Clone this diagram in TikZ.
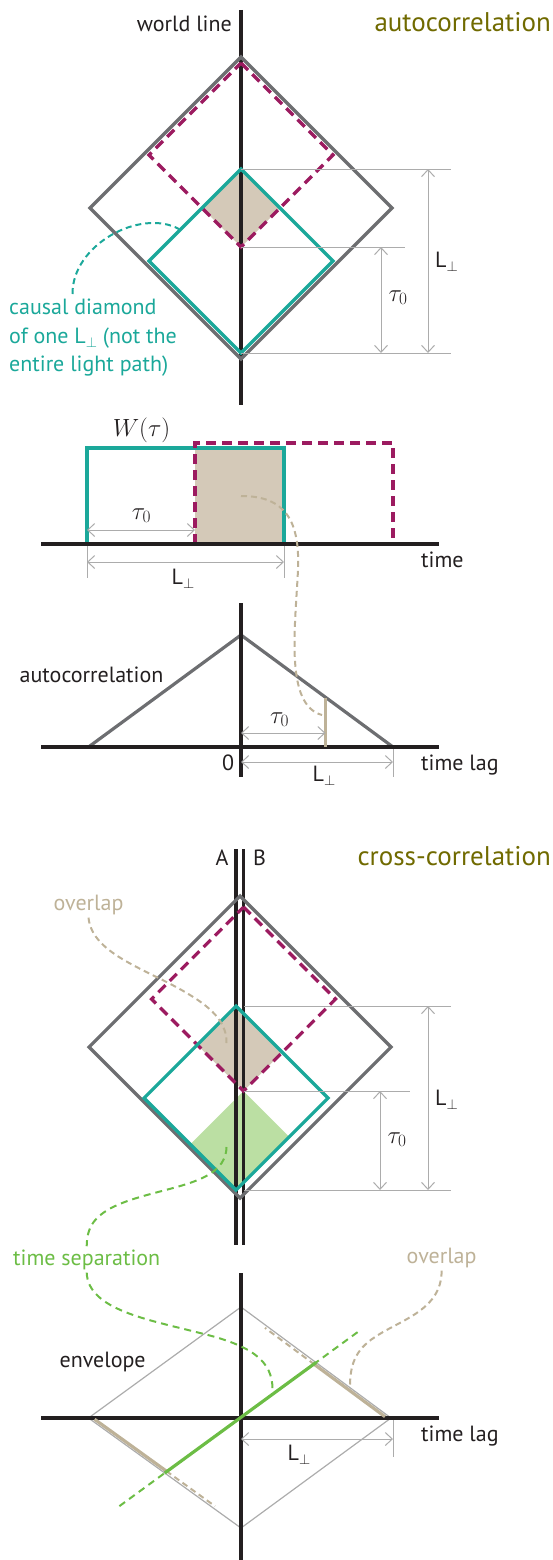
\documentclass[tikz,border=0pt]{standalone}
\usepackage{fontspec}
\setmainfont{PT Sans}
\usetikzlibrary{calc,arrows.meta}
\definecolor{ink}{RGB}{35,31,32}
\definecolor{dgrey}{RGB}{109,110,113}
\definecolor{lgrey}{RGB}{172,172,172}
\definecolor{teal1}{RGB}{27,168,154}
\definecolor{plum1}{RGB}{156,27,96}
\definecolor{tanfill}{RGB}{212,201,184}
\definecolor{tanline}{RGB}{190,178,152}
\definecolor{olive1}{RGB}{112,106,0}
\definecolor{green1}{RGB}{108,189,69}
\definecolor{green2}{RGB}{187,223,163}
\newcommand{\lblfont}{\fontsize{22}{28.3}\selectfont}
\newcommand{\ttlfont}{\fontsize{27}{32}\selectfont}
\newcommand{\mthfont}{\fontsize{25}{28}\selectfont}
\newcommand{\Lperp}{L\raisebox{-0.2em}{\fontsize{15}{15}\selectfont$\perp$}}
\tikzset{
  wline/.style={line width=3.5pt, draw=ink},
  axis/.style={line width=3.5pt, draw=ink},
  env/.style={line width=3.2pt, draw=dgrey},
  thinenv/.style={line width=1.2pt, draw=lgrey},
  cdiam/.style={line width=3.2pt, draw=teal1},
  ddiam/.style={line width=3.2pt, draw=plum1, dash pattern=on 10pt off 6pt},
  dimline/.style={line width=1pt, draw=lgrey},
  dimarr/.style={dimline, {Straight Barb[length=7pt,width=13pt]}-{Straight Barb[length=7pt,width=13pt]}},
  leader/.style={line width=2pt, dash pattern=on 6pt off 4pt},
  tanbar/.style={line width=3.2pt, draw=tanline},
  gsolid/.style={line width=3.2pt, draw=green1},
  gdash/.style={line width=2pt, draw=green1, dash pattern=on 7pt off 5pt},
  lbl/.style={font=\lblfont, text=ink, inner sep=0pt},
  mlbl/.style={font=\mthfont, text=ink, inner sep=0pt},
  ttl/.style={font=\ttlfont, text=olive1, inner sep=0pt}
}
\begin{document}
\begin{tikzpicture}[x=1pt,y=-1pt]
  \useasboundingbox (0,0) rectangle (552,1560);
  % --- world line and causal diamonds
  \coordinate (wl1) at (241,10);
  \coordinate (wl2) at (241,405);
  \coordinate (gT) at (241,57);  \coordinate (gR) at (392,208);
  \coordinate (gB) at (241,359); \coordinate (gL) at (90,208);
  \coordinate (mT) at (241,63);  \coordinate (mR) at (333,155);
  \coordinate (mB) at (241,247); \coordinate (mL) at (149,155);
  \coordinate (cT) at (241,169); \coordinate (cR) at (333,261);
  \coordinate (cB) at (241,353); \coordinate (cL) at (149,261);
  \begin{scope}
    \clip (cT) -- (cR) -- (cB) -- (cL) -- cycle;
    \fill[tanfill] (mT) -- (mR) -- (mB) -- (mL) -- cycle;
  \end{scope}
  \draw[wline] (wl1) -- (wl2);
  \draw[env] (gT) -- (gR) -- (gB) -- (gL) -- cycle;
  \draw[ddiam] (mT) -- (mR) -- (mB) -- (mL) -- cycle;
  \draw[cdiam] (cT) -- (cR) -- (cB) -- (cL) -- cycle;
  \node[lbl, anchor=base east] (wlbl) at (232,32) {world line};
  \node[ttl, anchor=base east] (autottl) at (551,32) {autocorrelation};
  % dimensions
  \coordinate (e1) at (451,169); \coordinate (e2) at (405,247); \coordinate (e3) at (451,353);
  \draw[dimline] (cT) -- (e1);
  \draw[dimline] (mB) -- (e2);
  \draw[dimline] (cB) -- (e3);
  \coordinate (a1t) at (428,169); \coordinate (a1b) at (428,353);
  \coordinate (a2t) at (381,247); \coordinate (a2b) at (381,353);
  \draw[dimarr] (a1t) -- (a1b);
  \draw[dimarr] (a2t) -- (a2b);
  \node[lbl, anchor=base west] (lperp1) at (435,267) {\Lperp};
  \node[mlbl, anchor=base] (tau1) at (398,301) {$\tau_0$};
  % causal diamond label
  \node[lbl, text=teal1, align=left, anchor=north west] (causal) at (9,299)
    {causal diamond\\of one \Lperp{} (not the\\entire light path)};
  \coordinate (cd1) at (72.5,294);
  \coordinate (cd2) at (179,229);
  \draw[leader, teal1] (cd1) .. controls (72,245) and (140,208) .. (cd2);

  % --- window functions
  \coordinate (tw1) at (87,544);  \coordinate (tw2) at (87,448);
  \coordinate (tw3) at (284,448); \coordinate (tw4) at (284,544);
  \coordinate (dw1) at (195,544); \coordinate (dw2) at (195,443);
  \coordinate (dw3) at (393,443); \coordinate (dw4) at (393,544);
  \fill[tanfill] (dw1) rectangle (tw3);
  \draw[cdiam] (tw1) -- (tw2) -- (tw3) -- (tw4);
  \draw[ddiam] (dw1) -- (dw2) -- (dw3) -- (dw4);
  \coordinate (ax1) at (41,544); \coordinate (ax2) at (439,544);
  \draw[axis] (ax1) -- (ax2);
  \node[lbl, anchor=base west] (timelbl) at (421,567) {time};
  \node[mlbl] (wtau) at (141.5,430) {$W(\tau)$};
  \coordinate (b1l) at (87,530); \coordinate (b1r) at (195,530);
  \draw[dimarr] (b1l) -- (b1r);
  \node[mlbl, anchor=base] (tau2) at (141.5,519) {$\tau_0$};
  \coordinate (x1t) at (87,546);  \coordinate (x1b) at (87,578);
  \coordinate (x2t) at (284,546); \coordinate (x2b) at (284,578);
  \draw[dimline] (x1t) -- (x1b);
  \draw[dimline] (x2t) -- (x2b);
  \coordinate (b2l) at (87,562); \coordinate (b2r) at (284,562);
  \draw[dimarr] (b2l) -- (b2r);
  \node[lbl, anchor=base] (lperp2) at (183,584) {\Lperp};

  % --- autocorrelation
  \coordinate (v1t) at (241,603); \coordinate (v1b) at (241,777);
  \coordinate (h1l) at (41,747);  \coordinate (h1r) at (439,747);
  \coordinate (t1) at (88.5,747); \coordinate (t2) at (241,635); \coordinate (t3) at (393,747);
  \draw[env] (t1) -- (t2) -- (t3);
  \draw[axis] (h1l) -- (h1r);
  \draw[axis] (v1t) -- (v1b);
  \coordinate (tb1) at (325.5,698); \coordinate (tb2) at (325.5,747);
  \draw[tanbar] (tb1) -- (tb2);
  \coordinate (c1l) at (241,733); \coordinate (c1r) at (325.5,733);
  \draw[dimarr] (c1l) -- (c1r);
  \node[mlbl, anchor=base] (tau3) at (279.5,723) {$\tau_0$};
  \coordinate (x3t) at (393,749); \coordinate (x3b) at (393,777);
  \draw[dimline] (x3t) -- (x3b);
  \coordinate (c2l) at (241,762); \coordinate (c2r) at (393,762);
  \draw[dimarr] (c2l) -- (c2r);
  \node[lbl, anchor=base] (lperp3) at (324,781) {\Lperp};
  \node[lbl, anchor=base] (zero) at (228,770) {0};
  \node[lbl, anchor=base west] (timelag1) at (421,770) {time lag};
  \node[lbl, anchor=base west] (acorr) at (19.5,682) {autocorrelation};
  \coordinate (ovA) at (241,496);
  \coordinate (ovB) at (322,715);
  \draw[leader, tanline] (ovA) .. controls (285,496) and (300,520) .. (298,570)
    .. controls (295,630) and (285,705) .. (ovB);

  % --- cross-correlation diamonds
  \coordinate (lA1) at (236,849);   \coordinate (lA2) at (236,1245);
  \coordinate (lB1) at (243.5,849); \coordinate (lB2) at (243.5,1245);
  \coordinate (hT) at (240,896);  \coordinate (hR) at (391,1047);
  \coordinate (hB) at (240,1198); \coordinate (hL) at (89,1047);
  \coordinate (nT) at (243.5,907);  \coordinate (nR) at (335.5,999);
  \coordinate (nB) at (243.5,1091); \coordinate (nL) at (151.5,999);
  \coordinate (kT) at (236,1006); \coordinate (kR) at (328,1098);
  \coordinate (kB) at (236,1190); \coordinate (kL) at (144,1098);
  \begin{scope}
    \clip (kT) -- (kR) -- (kB) -- (kL) -- cycle;
    \fill[tanfill] (nT) -- (nR) -- (nB) -- (nL) -- cycle;
    \fill[green2] (nB) -- ++(200,200) -- ++(-400,0) -- cycle;
  \end{scope}
  \draw[wline] (lA1) -- (lA2);
  \draw[wline] (lB1) -- (lB2);
  \draw[env] (hT) -- (hR) -- (hB) -- (hL) -- cycle;
  \draw[ddiam] (nT) -- (nR) -- (nB) -- (nL) -- cycle;
  \draw[cdiam] (kT) -- (kR) -- (kB) -- (kL) -- cycle;
  \node[lbl, anchor=base] (albl) at (222,865) {A};
  \node[lbl, anchor=base] (blbl) at (259.5,865) {B};
  \node[ttl, anchor=base east] (crossttl) at (551,865) {cross-correlation};
  % dimensions
  \coordinate (f1a) at (244,1006); \coordinate (f1b) at (451,1006);
  \coordinate (f2b) at (410,1091);
  \coordinate (f3a) at (244,1190); \coordinate (f3b) at (451,1190);
  \draw[dimline] (f1a) -- (f1b);
  \draw[dimline] (nB) -- (f2b);
  \draw[dimline] (f3a) -- (f3b);
  \coordinate (g1t) at (428,1006); \coordinate (g1b) at (428,1190);
  \coordinate (g2t) at (380,1091); \coordinate (g2b) at (380,1190);
  \draw[dimarr] (g1t) -- (g1b);
  \draw[dimarr] (g2t) -- (g2b);
  \node[lbl, anchor=base west] (lperp4) at (435,1105) {\Lperp};
  \node[mlbl, anchor=base] (tau4) at (397,1143) {$\tau_0$};
  % leaders
  \node[lbl, text=tanline, anchor=base, inner sep=3pt] (overlap1) at (88.5,910) {overlap};
  \coordinate (ovC) at (226.5,1043);
  \draw[leader, tanline] (overlap1.south) .. controls (92,955) and (150,970) .. (190,995)
    .. controls (215,1010) and (227,1025) .. (ovC);
  \node[lbl, text=green1, anchor=base, inner sep=3pt] (tsep) at (86.7,1265) {time separation};
  \coordinate (tsC) at (226.5,1147);
  \draw[gdash] (tsC) .. controls (226,1180) and (180,1185) .. (140,1197)
    .. controls (95,1210) and (87,1225) .. (tsep.north);

  % --- cross-correlation envelope
  \coordinate (v2t) at (241,1273); \coordinate (v2b) at (241,1560);
  \coordinate (h2l) at (41,1418);  \coordinate (h2r) at (439,1418);
  \coordinate (qT) at (241,1307);  \coordinate (qR) at (391,1418);
  \coordinate (qB) at (241,1528);  \coordinate (qL) at (88.5,1418);
  \coordinate (m1) at ($(qT)!0.5!(qR)$);
  \coordinate (m2) at ($(qL)!0.5!(qB)$);
  \draw[thinenv] (qT) -- (qR) -- (qB) -- (qL) -- cycle;
  \draw[axis] (h2l) -- (h2r);
  \draw[axis] (v2t) -- (v2b);
  \draw[tanbar] ($(qT)!0.97!(qR)+(-1.5,2)$) -- ($(m1)+(-1.5,2)$);
  \draw[tanbar] ($(qL)!0.03!(qB)+(1.5,-2)$) -- ($(m2)+(1.5,-2)$);
  \draw[leader, tanline] ($(m1)+(-1.5,2)$) -- ($(qT)!0.17!(qR)+(-1.5,2)$);
  \draw[leader, tanline] ($(m2)+(1.5,-2)$) -- ($(qL)!0.82!(qB)+(1.5,-2)$);
  \draw[gdash] ($(m1)!1.3!(m2)$) -- ($(m2)!1.3!(m1)$);
  \draw[gsolid] (m2) -- (m1);
  \coordinate (x4t) at (393,1420); \coordinate (x4b) at (393,1457);
  \draw[dimline] (x4t) -- (x4b);
  \coordinate (c3l) at (241,1439); \coordinate (c3r) at (393,1439);
  \draw[dimarr] (c3l) -- (c3r);
  \node[lbl, anchor=base] (lperp5) at (299,1460) {\Lperp};
  \node[lbl, anchor=base west] (timelag2) at (421,1441) {time lag};
  \node[lbl, anchor=base west] (envlbl) at (59.4,1367) {envelope};
  \node[lbl, text=tanline, anchor=base, inner sep=3pt] (overlap2) at (441.6,1263) {overlap};
  \coordinate (ovD) at (350,1387);
  \draw[leader, tanline] (overlap2.south) .. controls (442,1310) and (400,1320) .. (375,1337)
    .. controls (355,1350) and (350,1365) .. (ovD);
  \coordinate (tsD) at (272.5,1390);
  \draw[gdash] (tsep.south) .. controls (88,1310) and (150,1320) .. (200,1333)
    .. controls (250,1345) and (273,1360) .. (tsD);
\end{tikzpicture}
\end{document}
